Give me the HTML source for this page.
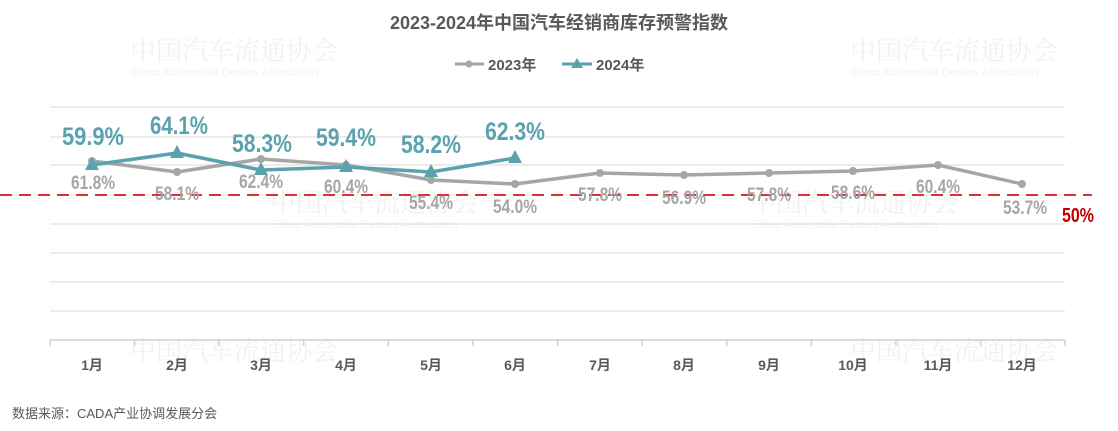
<!DOCTYPE html>
<html><head><meta charset="utf-8"><style>
html,body{margin:0;padding:0;background:#fff;}
svg{display:block;}
</style></head><body>
<svg width="1118" height="431" viewBox="0 0 1118 431" xmlns="http://www.w3.org/2000/svg">
<g font-family="Liberation Serif, 'Noto Serif CJK SC', serif" fill="#f1f1f1" font-size="26">
<text x="130" y="60">中国汽车流通协会</text>
<text x="850" y="60">中国汽车流通协会</text>
<text x="270" y="212">中国汽车流通协会</text>
<text x="750" y="212">中国汽车流通协会</text>
<text x="130" y="360">中国汽车流通协会</text>
<text x="850" y="360">中国汽车流通协会</text>
</g>
<g font-family="Liberation Sans, sans-serif" fill="#f1f1f1" font-size="11">
<text x="132" y="76">China Automobile Dealers Association</text>
<text x="852" y="76">China Automobile Dealers Association</text>
<text x="272" y="228">China Automobile Dealers Association</text>
<text x="752" y="228">China Automobile Dealers Association</text>
</g>
<text x="559" y="29" text-anchor="middle" font-family="Liberation Sans, 'Noto Sans CJK SC', sans-serif" font-weight="bold" font-size="18" fill="#595959">2023-2024年中国汽车经销商库存预警指数</text>
<g font-family="Liberation Sans, 'Noto Sans CJK SC', sans-serif" font-weight="bold" font-size="15" fill="#595959">
<line x1="455" y1="64" x2="484" y2="64" stroke="#a6a6a6" stroke-width="3"/><circle cx="469" cy="64" r="3.5" fill="#a6a6a6"/>
<text x="488" y="70">2023年</text>
<line x1="562" y1="64" x2="592" y2="64" stroke="#5aa2ae" stroke-width="3"/><polygon points="577,58 583,68 571,68" fill="#5aa2ae"/>
<text x="596" y="70">2024年</text>
</g>
<g stroke="#e6e6e6" stroke-width="1.5">
<line x1="50" y1="107" x2="1065" y2="107"/><line x1="50" y1="137" x2="1065" y2="137"/>
<line x1="50" y1="165" x2="1065" y2="165"/><line x1="50" y1="224" x2="1065" y2="224"/>
<line x1="50" y1="253" x2="1065" y2="253"/><line x1="50" y1="282" x2="1065" y2="282"/>
<line x1="50" y1="311" x2="1065" y2="311"/>
</g>
<line x1="50" y1="340" x2="1065" y2="340" stroke="#d0d0d0" stroke-width="1.5"/>
<g stroke="#d0d0d0" stroke-width="1.5">
<line x1="50" y1="340" x2="50" y2="346"/><line x1="134.6" y1="340" x2="134.6" y2="346"/><line x1="219.2" y1="340" x2="219.2" y2="346"/><line x1="303.8" y1="340" x2="303.8" y2="346"/><line x1="388.4" y1="340" x2="388.4" y2="346"/><line x1="473" y1="340" x2="473" y2="346"/><line x1="557.6" y1="340" x2="557.6" y2="346"/><line x1="642.2" y1="340" x2="642.2" y2="346"/><line x1="726.8" y1="340" x2="726.8" y2="346"/><line x1="811.4" y1="340" x2="811.4" y2="346"/><line x1="896" y1="340" x2="896" y2="346"/><line x1="980.6" y1="340" x2="980.6" y2="346"/><line x1="1065" y1="340" x2="1065" y2="346"/>
</g>
<line x1="0" y1="195" x2="1092" y2="195" stroke="#d9141b" stroke-width="1.8" stroke-dasharray="12,7"/>
<g font-family="Liberation Sans, 'Noto Sans CJK SC', sans-serif" font-weight="bold" font-size="14" fill="#595959" text-anchor="middle">
<text x="92" y="370">1月</text><text x="177" y="370">2月</text><text x="261" y="370">3月</text><text x="346" y="370">4月</text><text x="431" y="370">5月</text><text x="515" y="370">6月</text><text x="600" y="370">7月</text><text x="684" y="370">8月</text><text x="769" y="370">9月</text><text x="853" y="370">10月</text><text x="938" y="370">11月</text><text x="1022" y="370">12月</text>
</g>
<polyline points="92,161 177,172 261,159 346,165 431,180 515,184 600,173 684,175 769,173 853,171 938,165 1022,184" fill="none" stroke="#a6a6a6" stroke-width="3.5" stroke-linejoin="round"/>
<g fill="#a6a6a6">
<circle cx="92" cy="161" r="4"/><circle cx="177" cy="172" r="4"/><circle cx="261" cy="159" r="4"/><circle cx="346" cy="165" r="4"/><circle cx="431" cy="180" r="4"/><circle cx="515" cy="184" r="4"/><circle cx="600" cy="173" r="4"/><circle cx="684" cy="175" r="4"/><circle cx="769" cy="173" r="4"/><circle cx="853" cy="171" r="4"/><circle cx="938" cy="165" r="4"/><circle cx="1022" cy="184" r="4"/>
</g>
<g font-family="Liberation Sans, sans-serif" font-weight="bold" font-size="19" fill="#a6a6a6" lengthAdjust="spacingAndGlyphs">
<text x="71" y="189" textLength="44" lengthAdjust="spacingAndGlyphs">61.8%</text>
<text x="155" y="200" textLength="44" lengthAdjust="spacingAndGlyphs">58.1%</text>
<text x="239" y="188" textLength="44" lengthAdjust="spacingAndGlyphs">62.4%</text>
<text x="324" y="193" textLength="44" lengthAdjust="spacingAndGlyphs">60.4%</text>
<text x="409" y="209" textLength="44" lengthAdjust="spacingAndGlyphs">55.4%</text>
<text x="493" y="213" textLength="44" lengthAdjust="spacingAndGlyphs">54.0%</text>
<text x="578" y="201" textLength="44" lengthAdjust="spacingAndGlyphs">57.8%</text>
<text x="662" y="204" textLength="44" lengthAdjust="spacingAndGlyphs">56.9%</text>
<text x="747" y="201" textLength="44" lengthAdjust="spacingAndGlyphs">57.8%</text>
<text x="831" y="199" textLength="44" lengthAdjust="spacingAndGlyphs">58.6%</text>
<text x="916" y="193" textLength="44" lengthAdjust="spacingAndGlyphs">60.4%</text>
<text x="1003" y="214" textLength="44" lengthAdjust="spacingAndGlyphs">53.7%</text>
</g>
<polyline points="92,165 177,153 261,170 346,167 431,172 515,158" fill="none" stroke="#5aa2ae" stroke-width="3.5" stroke-linejoin="round"/>
<g fill="#5aa2ae">
<polygon points="92,157 99,170 85,170"/><polygon points="177,145 184,158 170,158"/><polygon points="261,162 268,175 254,175"/><polygon points="346,159 353,172 339,172"/><polygon points="431,164 438,177 424,177"/><polygon points="515,150 522,163 508,163"/>
</g>
<g font-family="Liberation Sans, sans-serif" font-weight="bold" font-size="25" fill="#5aa2ae">
<text x="62" y="145" textLength="62" lengthAdjust="spacingAndGlyphs">59.9%</text>
<text x="150" y="134" textLength="58" lengthAdjust="spacingAndGlyphs">64.1%</text>
<text x="232" y="152" textLength="60" lengthAdjust="spacingAndGlyphs">58.3%</text>
<text x="316" y="146" textLength="60" lengthAdjust="spacingAndGlyphs">59.4%</text>
<text x="401" y="153" textLength="60" lengthAdjust="spacingAndGlyphs">58.2%</text>
<text x="485" y="140" textLength="60" lengthAdjust="spacingAndGlyphs">62.3%</text>
</g>
<text x="1062" y="222" textLength="32" lengthAdjust="spacingAndGlyphs" font-family="Liberation Sans, sans-serif" font-weight="bold" font-size="20" fill="#c00000">50%</text>
<text x="12" y="418" font-family="Liberation Sans, 'Noto Sans CJK SC', sans-serif" font-size="13" fill="#595959">数据来源：CADA产业协调发展分会</text>
</svg>
</body></html>
